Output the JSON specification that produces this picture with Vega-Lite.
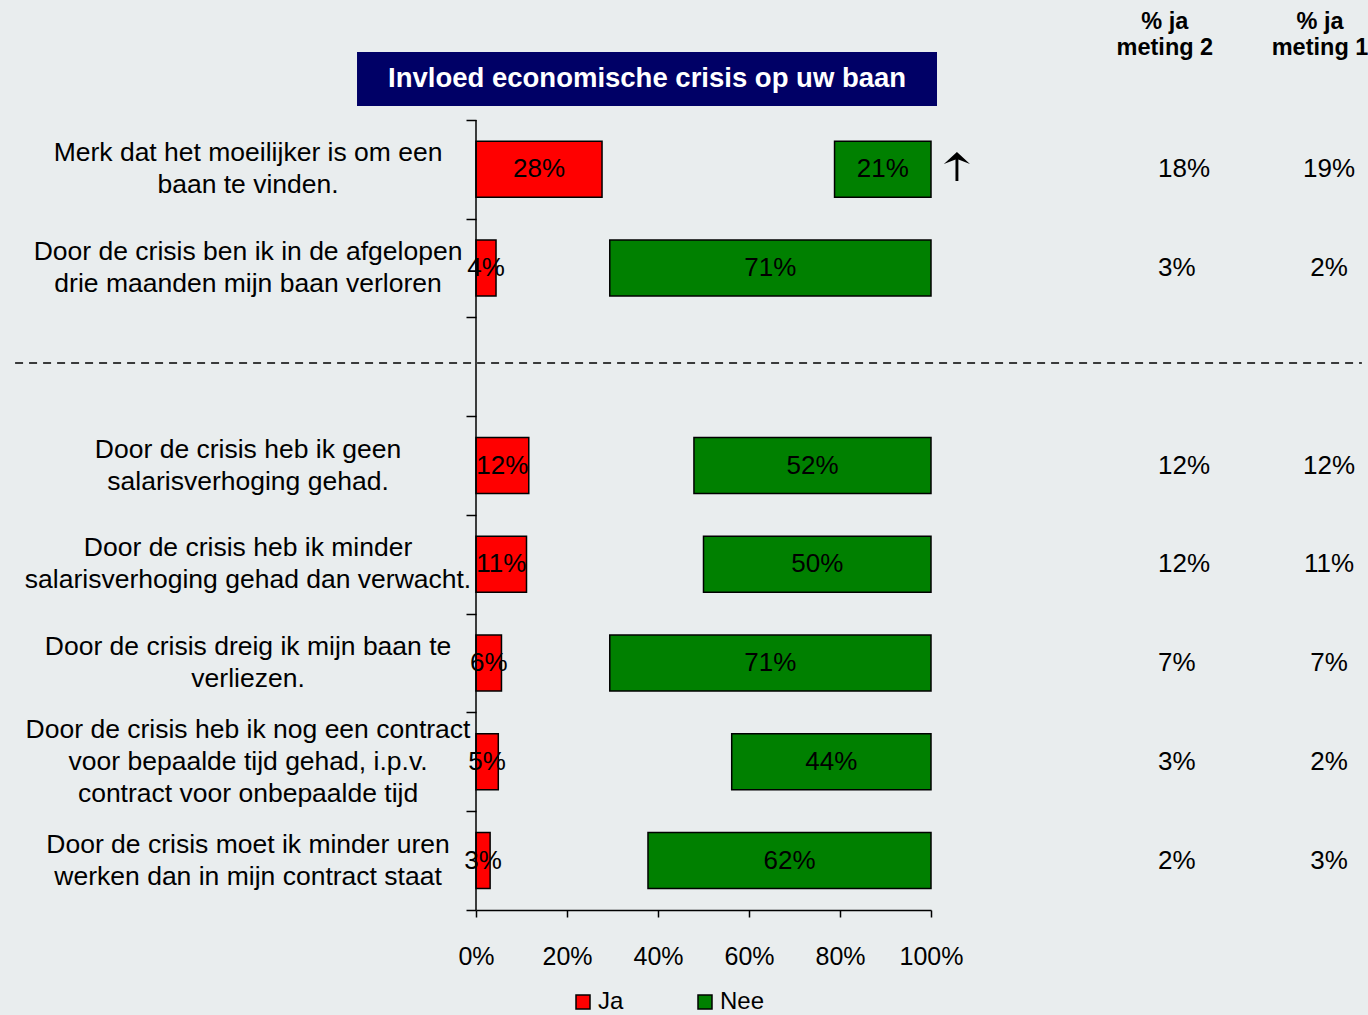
{
  "$schema": "https://vega.github.io/schema/vega-lite/v6.json",
  "background": "#e9edee",
  "autosize": {"type": "none"},
  "padding": {"left": 476, "top": 0, "right": 437, "bottom": 105},
  "width": 455,
  "height": 910,
  "config": {
    "font": "Liberation Sans",
    "view": {"stroke": null},
    "axis": {"grid": false, "domainColor": "black", "tickColor": "black", "labelColor": "black"}
  },
  "data": {
    "values": [
      {"row": 1, "label": "Merk dat het moeilijker is om een\nbaan te vinden.", "ja": 0.277, "nee": 0.212, "m2": 0.18, "m1": 0.19},
      {"row": 2, "label": "Door de crisis ben ik in de afgelopen\ndrie maanden mijn baan verloren", "ja": 0.044, "nee": 0.706, "m2": 0.03, "m1": 0.02},
      {"row": 4, "label": "Door de crisis heb ik geen\nsalarisverhoging gehad.", "ja": 0.116, "nee": 0.521, "m2": 0.12, "m1": 0.12},
      {"row": 5, "label": "Door de crisis heb ik minder\nsalarisverhoging gehad dan verwacht.", "ja": 0.111, "nee": 0.5, "m2": 0.12, "m1": 0.11},
      {"row": 6, "label": "Door de crisis dreig ik mijn baan te\nverliezen.", "ja": 0.056, "nee": 0.706, "m2": 0.07, "m1": 0.07},
      {"row": 7, "label": "Door de crisis heb ik nog een contract\nvoor bepaalde tijd gehad, i.p.v.\ncontract voor onbepaalde tijd", "ja": 0.049, "nee": 0.438, "m2": 0.03, "m1": 0.02},
      {"row": 8, "label": "Door de crisis moet ik minder uren\nwerken dan in mijn contract staat", "ja": 0.031, "nee": 0.622, "m2": 0.02, "m1": 0.03}
    ]
  },
  "layer": [
    {
      "layer": [
        {
          "mark": {"type": "bar", "orient": "horizontal", "height": 56, "stroke": "black", "strokeWidth": 1.5},
          "encoding": {
            "y": {
              "field": "row", "type": "quantitative",
              "scale": {"domain": [-0.715, 8.5], "reverse": true, "zero": false, "nice": false, "padding": 0},
              "axis": {"values": [0.5, 1.5, 2.5, 3.5, 4.5, 5.5, 6.5, 7.5, 8.5], "labels": false, "ticks": true, "tickSize": 10, "tickWidth": 1.5, "domain": false, "title": null, "grid": false}
            },
            "x": {
              "field": "ja", "type": "quantitative",
              "scale": {"domain": [0, 1], "nice": false, "padding": 0},
              "axis": {"values": [0, 0.2, 0.4, 0.6, 0.8, 1], "format": ".0%", "tickSize": 7, "tickWidth": 1.5, "domainWidth": 1.5, "labelFontSize": 25, "labelPadding": 27, "labelFlush": false, "labelOverlap": false, "title": null, "grid": false}
            },
            "color": {
              "datum": "Ja", "type": "nominal",
              "scale": {"domain": ["Ja", "Nee"], "range": ["#ff0000", "#008000"]},
              "legend": {"orient": "none", "legendX": 95, "legendY": 990, "direction": "horizontal", "title": null, "symbolType": "square", "symbolSize": 196, "symbolStrokeColor": "black", "symbolStrokeWidth": 1.5, "labelFontSize": 24, "labelColor": "black", "labelOffset": 3, "columnPadding": 69, "padding": 0}
            }
          }
        },
        {
          "data": {"values": [{}]},
          "mark": {"type": "rect", "fill": "#000066"},
          "encoding": {
            "x": {"datum": -0.2615, "type": "quantitative"},
            "x2": {"datum": 1.0132},
            "y": {"datum": -0.189, "type": "quantitative"},
            "y2": {"datum": 0.358}
          }
        },
        {
          "data": {"values": [{}]},
          "mark": {"type": "text", "align": "center", "baseline": "middle", "fontSize": 27.5, "fontWeight": "bold", "color": "white"},
          "encoding": {
            "x": {"datum": 0.376, "type": "quantitative"},
            "y": {"datum": 0.085, "type": "quantitative"},
            "text": {"value": "Invloed economische  crisis op uw baan"}
          }
        },
        {
          "data": {"values": [{}]},
          "mark": {"type": "text", "align": "center", "baseline": "middle", "fontSize": 23.5, "fontWeight": "bold", "color": "black", "lineBreak": "\n", "lineHeight": 26},
          "encoding": {
            "x": {"datum": 1.514, "type": "quantitative"},
            "y": {"datum": -0.492, "type": "quantitative"},
            "text": {"value": "% ja\nmeting 2"}
          }
        },
        {
          "data": {"values": [{}]},
          "mark": {"type": "text", "align": "center", "baseline": "middle", "fontSize": 23.5, "fontWeight": "bold", "color": "black", "lineBreak": "\n", "lineHeight": 26},
          "encoding": {
            "x": {"datum": 1.855, "type": "quantitative"},
            "y": {"datum": -0.492, "type": "quantitative"},
            "text": {"value": "% ja\nmeting 1"}
          }
        },
        {
          "data": {"values": [{}]},
          "mark": {"type": "rule", "color": "black", "strokeWidth": 1.5, "strokeDash": [8, 6]},
          "encoding": {
            "x": {"datum": -1.013, "type": "quantitative"},
            "x2": {"datum": 1.947},
            "y": {"datum": 2.96, "type": "quantitative"}
          }
        },
        {
          "data": {"values": [{}]},
          "mark": {"type": "rule", "color": "black", "strokeWidth": 1.5},
          "encoding": {
            "x": {"datum": 0, "type": "quantitative"},
            "y": {"datum": 0.5, "type": "quantitative"},
            "y2": {"datum": 8.5}
          }
        },
        {
          "transform": [{"filter": {"not": {"field": "row", "equal": 7}}}],
          "mark": {"type": "text", "align": "center", "baseline": "middle", "fontSize": 26.5, "lineHeight": 32, "lineBreak": "\n", "dy": -16, "color": "black"},
          "encoding": {
            "x": {"datum": -0.501, "type": "quantitative"},
            "y": {"field": "row", "type": "quantitative"},
            "text": {"field": "label"}
          }
        },
        {
          "transform": [{"filter": {"field": "row", "equal": 7}}],
          "mark": {"type": "text", "align": "center", "baseline": "middle", "fontSize": 26.5, "lineHeight": 32, "lineBreak": "\n", "dy": -32, "color": "black"},
          "encoding": {
            "x": {"datum": -0.501, "type": "quantitative"},
            "y": {"field": "row", "type": "quantitative"},
            "text": {"field": "label"}
          }
        },
        {
          "mark": {"type": "text", "align": "left", "baseline": "middle", "fontSize": 26, "color": "black"},
          "encoding": {
            "x": {"datum": 1.499, "type": "quantitative"},
            "y": {"field": "row", "type": "quantitative"},
            "text": {"field": "m2", "type": "quantitative", "format": ".0%"}
          }
        },
        {
          "mark": {"type": "text", "align": "center", "baseline": "middle", "fontSize": 26, "color": "black"},
          "encoding": {
            "x": {"datum": 1.875, "type": "quantitative"},
            "y": {"field": "row", "type": "quantitative"},
            "text": {"field": "m1", "type": "quantitative", "format": ".0%"}
          }
        },
        {
          "data": {"values": [{}]},
          "mark": {"type": "point", "shape": "M0,-1 L0.9,-0.17 L0.1,-0.48 L0.1,1 L-0.1,1 L-0.1,-0.48 L-0.9,-0.17 Z", "size": 841, "filled": true, "color": "black", "opacity": 1},
          "encoding": {
            "x": {"datum": 1.057, "type": "quantitative"},
            "y": {"datum": 0.971, "type": "quantitative"}
          }
        }
      ]
    },
    {
      "mark": {"type": "bar", "orient": "horizontal", "height": 56, "stroke": "black", "strokeWidth": 1.5},
      "encoding": {
        "y": {"field": "row", "type": "quantitative"},
        "x": {"field": "nee", "type": "quantitative", "scale": {"domain": [0, 1], "reverse": true, "nice": false, "padding": 0}, "axis": null},
        "color": {"datum": "Nee", "type": "nominal"}
      }
    },
    {
      "mark": {"type": "text", "align": "center", "baseline": "middle", "fontSize": 26, "color": "black"},
      "encoding": {
        "y": {"field": "row", "type": "quantitative"},
        "x": {"field": "ja", "type": "quantitative", "scale": {"domain": [0, 2], "nice": false, "padding": 0}, "axis": null},
        "text": {"field": "ja", "type": "quantitative", "format": ".0%"}
      }
    },
    {
      "mark": {"type": "text", "align": "center", "baseline": "middle", "fontSize": 26, "color": "black"},
      "encoding": {
        "y": {"field": "row", "type": "quantitative"},
        "x": {"field": "nee", "type": "quantitative", "scale": {"domain": [0, 2], "reverse": true, "nice": false, "padding": 0}, "axis": null},
        "text": {"field": "nee", "type": "quantitative", "format": ".0%"}
      }
    }
  ],
  "resolve": {"scale": {"x": "independent"}}
}
